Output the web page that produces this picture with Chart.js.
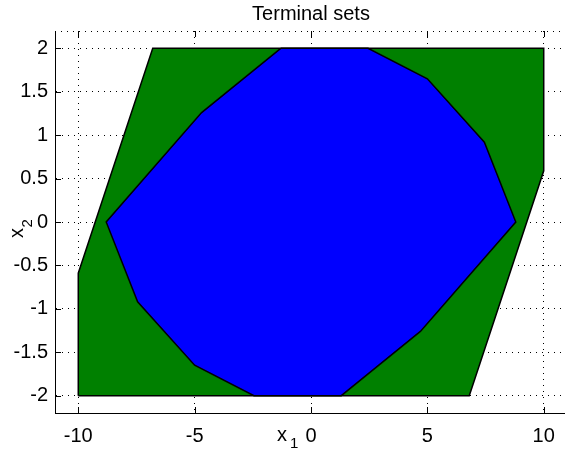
<!DOCTYPE html>
<html>
<head>
<meta charset="utf-8">
<script src="https://cdn.jsdelivr.net/npm/chart.js@4.4.1/dist/chart.umd.min.js"></script>
<style>
  html, body { margin: 0; padding: 0; background: #fff; overflow: hidden; }
  #wrap { position: absolute; left: 0; top: 0; width: 580px; height: 450px; }
</style>
</head>
<body>
<div id="wrap"><canvas id="chart" width="580" height="450"></canvas></div>
<script>
// axis ticks
const xTicks = [-10, -5, 0, 5, 10];
const yTicks = [-2, -1.5, -1, -0.5, 0, 0.5, 1, 1.5, 2];

// outer terminal set (green)
const outerX = [-10, -10, -6.8, 10, 10, 6.8];
const outerY = [-2, -0.59, 2, 2, 0.59, -2];

// inner terminal set (blue)
const innerX = [-1.3, 2.45, 5.0, 7.45, 8.8, 4.7, 1.3, -2.45, -5.0, -7.45, -8.8, -4.7];
const innerY = [2, 2, 1.65, 0.92, 0, -1.26, -2, -2, -1.65, -0.92, 0, 1.26];

const FONT = '"Liberation Sans", Arial, Helvetica, sans-serif';

function closedPolygon(xs, ys) {
  const pts = xs.map((x, i) => ({ x: x, y: ys[i] }));
  pts.push({ x: xs[0], y: ys[0] });
  return pts;
}

function polyDataset(xs, ys, fillColor, order) {
  return {
    data: closedPolygon(xs, ys),
    borderColor: '#000',
    borderWidth: 1.5,
    backgroundColor: fillColor,
    fill: 'shape',
    pointRadius: 0,
    tension: 0,
    order: order
  };
}

// inward tick marks, dotted top edge and the x1 / x2 labels
const axisDecor = {
  id: 'axisDecor',
  afterDraw(chart) {
    const { ctx, chartArea: a, scales: { x, y } } = chart;
    ctx.save();
    ctx.strokeStyle = '#000';
    ctx.lineWidth = 1;

    ctx.setLineDash([1, 5]);
    ctx.beginPath();
    ctx.moveTo(a.left, a.top + 0.5);
    ctx.lineTo(a.right, a.top + 0.5);
    ctx.stroke();
    ctx.setLineDash([]);

    const len = 6;
    ctx.beginPath();
    xTicks.forEach(v => {
      const px = Math.round(x.getPixelForValue(v)) + 0.5;
      ctx.moveTo(px, a.bottom);
      ctx.lineTo(px, a.bottom - len);
      ctx.moveTo(px, a.top);
      ctx.lineTo(px, a.top + len);
    });
    yTicks.forEach(v => {
      const py = Math.round(y.getPixelForValue(v)) + 0.5;
      ctx.moveTo(a.left, py);
      ctx.lineTo(a.left + len, py);
    });
    ctx.stroke();

    ctx.fillStyle = '#000';
    ctx.textAlign = 'left';
    ctx.textBaseline = 'alphabetic';

    // x1
    ctx.font = '20px ' + FONT;
    ctx.fillText('x', 277, 441);
    ctx.font = '15px ' + FONT;
    ctx.fillText('1', 290, 448);

    // x2, rotated
    ctx.translate(23, 238);
    ctx.rotate(-Math.PI / 2);
    ctx.font = '20px ' + FONT;
    ctx.fillText('x', 0, 0);
    ctx.font = '15px ' + FONT;
    ctx.fillText('2', 10.5, 9);
    ctx.restore();
  }
};

new Chart(document.getElementById('chart'), {
  type: 'line',
  data: {
    datasets: [
      polyDataset(innerX, innerY, '#0000ff', 0),
      polyDataset(outerX, outerY, '#008000', 1)
    ]
  },
  options: {
    responsive: false,
    animation: false,
    layout: { padding: { left: 0, right: 13, top: 0, bottom: 0 } },
    plugins: {
      legend: { display: false },
      tooltip: { enabled: false },
      title: {
        display: true,
        text: 'Terminal sets',
        fullSize: false,
        color: '#000',
        font: { family: FONT, size: 20, weight: 'normal' },
        padding: { top: 2, bottom: 5 }
      }
    },
    scales: {
      x: {
        type: 'linear',
        min: -11,
        max: 11,
        afterBuildTicks: s => { s.ticks = xTicks.map(v => ({ value: v })); },
        afterFit: s => { s.height = 37; },
        ticks: {
          color: '#000',
          font: { family: FONT, size: 20 },
          padding: 11,
          maxRotation: 0,
          callback: v => String(v)
        },
        grid: { color: '#000', lineWidth: 1, drawTicks: false },
        border: { display: true, color: '#000', width: 1, dash: [1, 5] }
      },
      y: {
        type: 'linear',
        min: -2.2,
        max: 2.2,
        afterBuildTicks: s => { s.ticks = yTicks.map(v => ({ value: v })); },
        afterFit: s => { s.width = 55; },
        ticks: {
          color: '#000',
          font: { family: FONT, size: 20 },
          padding: 7,
          callback: v => String(v)
        },
        grid: { color: '#000', lineWidth: 1, drawTicks: false },
        border: { display: true, color: '#000', width: 1, dash: [1, 5] }
      }
    }
  },
  plugins: [axisDecor]
});
</script>
</body>
</html>
